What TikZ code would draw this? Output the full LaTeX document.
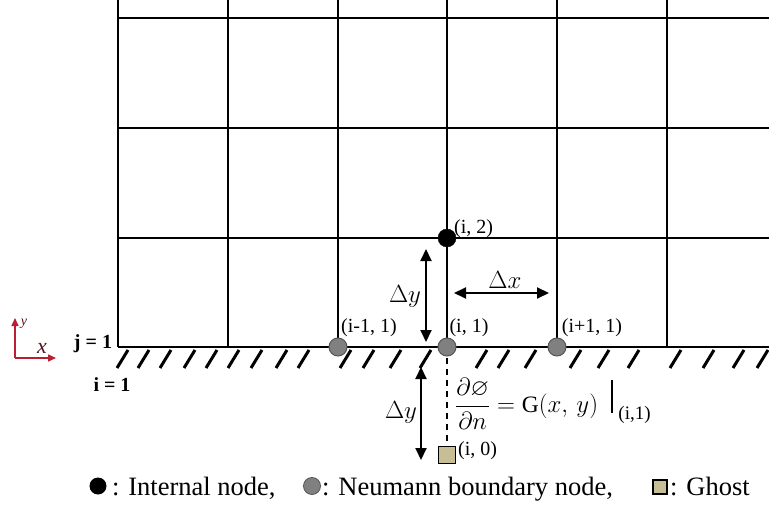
\documentclass[tikz,border=0pt]{standalone}
\usepackage{fontspec}
\usepackage{amssymb}
\setmainfont{Liberation Serif}
\usetikzlibrary{arrows.meta}
\definecolor{nodegray}{RGB}{128,128,128}
\definecolor{nodeedge}{RGB}{85,85,85}
\definecolor{ghostfill}{RGB}{200,190,150}
\definecolor{axisred}{RGB}{185,30,50}
\definecolor{axistext}{RGB}{80,20,30}
\begin{document}
\begin{tikzpicture}[x=1pt,y=-1pt,
  gridline/.style={line width=2pt},
  hatchline/.style={line width=3pt},
  intnode/.style={circle,fill=black,draw=black,inner sep=0pt,minimum size=18pt},
  bndnode/.style={circle,fill=nodegray,draw=nodeedge,line width=1pt,inner sep=0pt,minimum size=18pt},
  ghostnode/.style={rectangle,fill=ghostfill,draw=black,line width=1.6pt,inner sep=0pt,minimum size=17pt},
  lbl/.style={font=\fontsize{20}{24}\selectfont,inner sep=0pt},
  dimarrow/.style={line width=2pt,{Triangle[length=12pt,width=11pt]}-{Triangle[length=12pt,width=11pt]}},
  dimlbl/.style={font=\fontsize{25}{28}\selectfont,inner sep=0pt},
  legtext/.style={font=\fontsize{26.5}{30}\selectfont,inner sep=0pt,anchor=base west},
  axarrow/.style={line width=1.5pt,draw=axisred,-{Triangle[length=8pt,width=7pt]}}]
\useasboundingbox (0,0) rectangle (769,508);
% grid
\foreach \gx in {118,228,338,447,557,667} \draw[gridline] (\gx,0) -- (\gx,347);
\foreach \gy in {18,128,238} \draw[gridline] (118,\gy) -- (769,\gy);
\draw[line width=2.6pt] (118,347) -- (769,347);
% hatching
\foreach \hx in {117,138,160,184,206,228,251,276,298,340,363,390,420,476,498,525,570,598,628,670,703,733,757}
  \draw[hatchline] (\hx,368) -- ++(11,-18);
% dashed line to ghost
\draw[line width=2pt,dash pattern=on 6pt off 5pt] (447,347) -- (447,446);
% nodes
\node[intnode] (i2) at (447,238) {};
\node[bndnode] (im1) at (338,347) {};
\node[bndnode] (i1) at (447,347) {};
\node[bndnode] (ip1) at (557,347) {};
\node[ghostnode] (i0) at (447,455) {};
% node labels
\node[lbl,anchor=west] (li2) at (454,229) {(i, 2)};
\node[lbl] (lim1) at (369,328) {(i-1, 1)};
\node[lbl] (li1) at (469,328) {(i, 1)};
\node[lbl] (lip1) at (592,328) {(i+1, 1)};
\node[lbl,anchor=west] (li0) at (458,451) {(i, 0)};
% dimension arrows
\coordinate (dyt) at (426,249);
\coordinate (dyb) at (426,342);
\draw[dimarrow] (dyt) -- (dyb);
\node[dimlbl] (dylab) at (405,296) {$\Delta y$};
\coordinate (dxl) at (454,293);
\coordinate (dxr) at (549,293);
\draw[dimarrow] (dxl) -- (dxr);
\node[dimlbl] (dxlab) at (505,280) {$\Delta x$};
\coordinate (dy2t) at (421,367);
\coordinate (dy2b) at (421,460);
\draw[dimarrow] (dy2t) -- (dy2b);
\node[dimlbl] (dy2lab) at (401,412) {$\Delta y$};
% boundary condition
\node[anchor=west,inner sep=0pt,font=\fontsize{23.5}{28}\selectfont] (eq) at (455,404)
  {$\displaystyle\frac{\partial\varnothing}{\partial n}=\mathrm{G}(x,\,y)$};
\coordinate (bt) at ([xshift=14pt,yshift=24pt]eq.east);
\coordinate (bb) at ([xshift=14pt,yshift=-9pt]eq.east);
\draw[line width=1.8pt] (bt) -- (bb);
\node[anchor=west,inner sep=0pt,font=\fontsize{19}{22}\selectfont] (sub) at ([xshift=6pt,yshift=-2pt]bb) {(i,1)};
% axes symbol
\coordinate (ax0) at (15,358);
\coordinate (axy) at (15,318);
\coordinate (axx) at (56,358);
\draw[axarrow] (ax0) -- (axy);
\draw[axarrow] (ax0) -- (axx);
\node[inner sep=0pt,text=axistext,font=\fontsize{14}{16}\selectfont\itshape] (ylab) at (24,324) {y};
\node[inner sep=0pt,text=axistext,font=\fontsize{22}{24}\selectfont\itshape] (xlab) at (42,348) {x};
\node[inner sep=0pt,font=\fontsize{20}{22}\selectfont\bfseries] (j1) at (93,344) {j = 1};
\node[inner sep=0pt,font=\fontsize{20}{22}\selectfont\bfseries] (ii1) at (112,385) {i = 1};
% legend
\node[circle,fill=black,inner sep=0pt,minimum size=17pt] (lg1) at (98,486) {};
\node[legtext] (lt1) at (112,495) {: Internal node,};
\node[circle,fill=nodegray,draw=nodeedge,line width=0.8pt,inner sep=0pt,minimum size=17pt] (lg2) at (312,486) {};
\node[legtext] (lt2) at (322,495) {: Neumann boundary node,};
\node[rectangle,fill=ghostfill,draw=black,line width=1.4pt,inner sep=0pt,minimum size=14pt] (lg3) at (660,487) {};
\node[legtext] (lt3) at (670,495) {: Ghost};
\end{tikzpicture}
\end{document}
